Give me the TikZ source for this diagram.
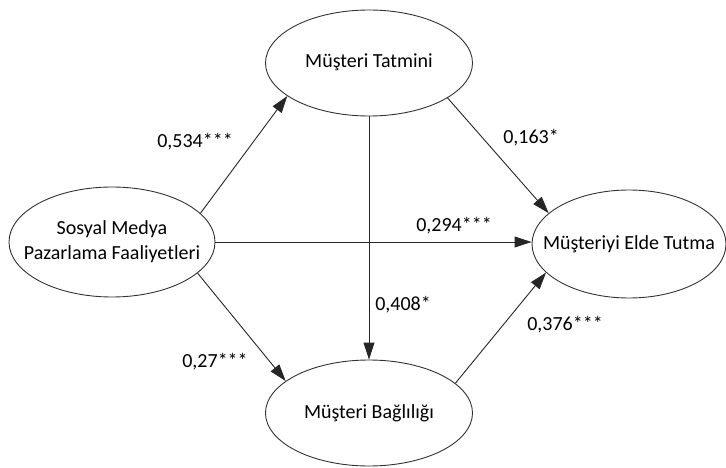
\documentclass[tikz,border=0pt]{standalone}
\usepackage{fontspec}
\setmainfont{Carlito}
\usetikzlibrary{shapes.geometric,arrows.meta}
\newcommand{\zw}[1]{\makebox[0pt]{\begin{tabular}{@{}c@{}}#1\end{tabular}}}
\begin{document}
\begin{tikzpicture}[x=1pt,y=-1pt,
  construct/.style={ellipse,draw=black!80,line width=0.9pt,fill=white,inner sep=0pt,
    font=\fontsize{20}{25}\selectfont},
  path/.style={draw=black!85,line width=0.9pt,-{Triangle[length=17pt,width=11pt]}},
  coef/.style={font=\fontsize{20}{24}\selectfont,inner sep=0pt}]
\useasboundingbox (0,0) rectangle (726,468);
\node[construct,minimum width=206pt,minimum height=110pt] (L) at (112,242) {\zw{Sosyal Medya\\Pazarlama Faaliyetleri}};
\node[construct,minimum width=207pt,minimum height=106pt] (T) at (369,63) {\zw{Müşteri Tatmini}};
\node[construct,minimum width=194pt,minimum height=108pt] (R) at (629,244) {\zw{Müşteriyi Elde Tutma}};
\node[construct,minimum width=207pt,minimum height=106pt] (B) at (369,413) {\zw{Müşteri Bağlılığı}};
\draw[path] (L.18.8) -- (T.202.6);
\draw[path] (L.east) -- (L.east -| R.west);
\draw[path] (L.340.6) -- (B.159.8);
\draw[path] (T.south) -- (B.north);
\draw[path] (T.336.8) -- (R.159.1);
\draw[path] (B.19.1) -- (R.199.1);
\node[coef] (c1) at (195,142) {0,534***};
\node[coef] (c2) at (531,138) {0,163*};
\node[coef] (c3) at (454,226) {0,294***};
\node[coef] (c4) at (403,305) {0,408*};
\node[coef] (c5) at (565,325) {0,376***};
\node[coef] (c6) at (215,362) {0,27***};
\end{tikzpicture}
\end{document}
